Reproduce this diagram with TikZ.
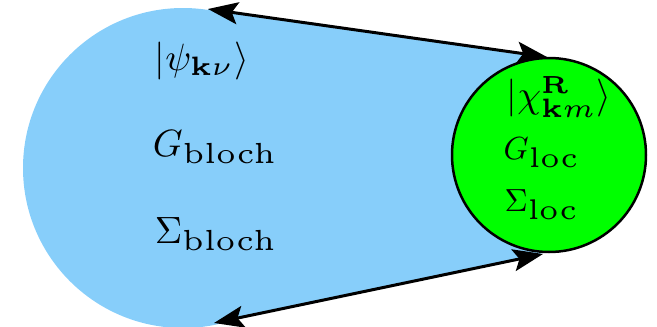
\documentclass[tikz,border=0pt]{standalone}
\usepackage{amsmath}
\usepackage{graphicx}
\usetikzlibrary{arrows.meta}
\definecolor{skyfill}{RGB}{135,206,250}
\definecolor{locgreen}{RGB}{0,255,0}
\newcommand{\mysub}[2]{\mbox{\scalebox{#1}{$\scriptscriptstyle #2$}}}
\tikzset{
  conn/.style={line width=3pt, {Stealth[length=30pt,width=22pt,inset=6pt]}-{Stealth[length=30pt,width=22pt,inset=6pt]}},
  lbl/.style={anchor=base west, inner sep=0pt, scale=3.8, transform shape},
  lbls/.style={anchor=base west, inner sep=0pt, scale=3.2, transform shape}
}
\begin{document}
\begin{tikzpicture}[x=1pt,y=-1pt]
\useasboundingbox (0,0) rectangle (657,327);
% blue region
\fill[skyfill] (183,168) circle[radius=160];
\fill[skyfill] (208,9) -- (547,57) -- (549,155) -- (543,253) -- (214,323) -- (183,168) -- cycle;
% green circle
\node[circle, draw=black, line width=2.5pt, fill=locgreen, minimum size=194pt, inner sep=0pt] (loc) at (549,155) {};
% coordinates for connectors
\coordinate (tl) at (208,9);
\coordinate (tr) at (547,57);
\coordinate (bl) at (214,323);
\coordinate (br) at (543,254);
\draw[conn] (tl) -- (tr);
\draw[conn] (bl) -- (br);
% labels
\node[lbl] (psi) at (154,70) {$|\psi_{\mysub{1.4}{\mathbf{k}\nu}}\rangle$};
\node[lbl] (gb) at (152,156) {$G_{\mysub{1.53}{\mathrm{bloch}}}$};
\node[lbl] (sb) at (154,243) {$\Sigma_{\mysub{1.53}{\mathrm{bloch}}}$};
\node[lbl] (chi) at (506,107) {$|\chi^{\mysub{1.3}{\mathbf{R}}}_{\mysub{1.4}{\mathbf{k}m}}\rangle$};
\node[lbls] (gl) at (503,159) {$G_{\mysub{1.78}{\mathrm{loc}}}$};
\node[lbls] (sl) at (504,211) {$\Sigma_{\mysub{1.78}{\mathrm{loc}}}$};
\end{tikzpicture}
\end{document}
